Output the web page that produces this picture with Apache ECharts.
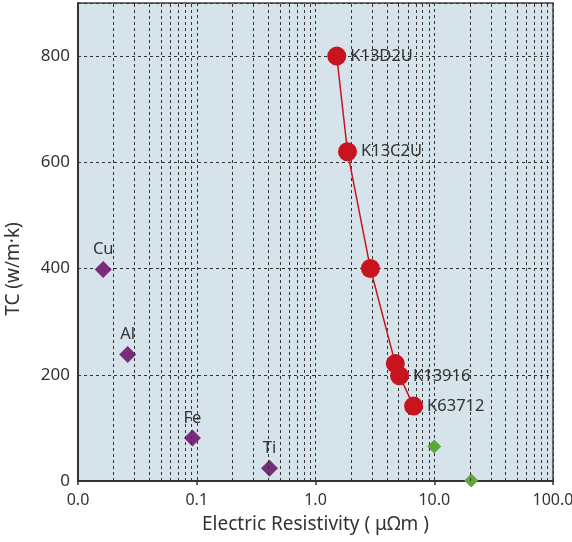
<!DOCTYPE html>
<html>
<head>
<meta charset="utf-8">
<script src="https://cdn.jsdelivr.net/npm/echarts@6/dist/echarts.min.js"></script>
<style>
  html, body { margin: 0; padding: 0; background: #ffffff; }
  #chart { width: 572px; height: 542px; }
</style>
</head>
<body>
<div id="chart"></div>
<script>
// K-series alloys (red, connected)
var alloyNames = ['K13D2U', 'K13C2U', '', '', 'K13916', 'K63712'];
var alloyRes = [1.51, 1.86, 2.9, 4.7, 5.1, 6.7];
var alloyTC = [800, 620, 400, 221, 198, 141];

// pure metals (purple diamonds)
var metalNames = ['Cu', 'Al', 'Fe', 'Ti'];
var metalRes = [0.0163, 0.0262, 0.092, 0.41];
var metalTC = [398, 238, 81, 24];

// other materials (green diamonds)
var otherRes = [10.0, 20.5];
var otherTC = [65, 1];

var xTicks = [0.01, 0.1, 1, 10, 100];
var yTicks = [0, 200, 400, 600, 800];

var FONT = '"Noto Sans", "Open Sans", sans-serif';

// minor log gridlines 2..9 within each decade
var minorLines = [];
for (var d = 0; d < xTicks.length - 1; d++) {
  for (var m = 2; m <= 9; m++) {
    minorLines.push({ xAxis: +(xTicks[d] * m).toPrecision(3) });
  }
}

function pairs(xs, ys) {
  return xs.map(function (x, i) { return [x, ys[i]]; });
}

var chart = echarts.init(document.getElementById('chart'));
chart.setOption({
  backgroundColor: '#ffffff',
  animation: false,
  grid: {
    left: 78, right: 19, top: 3, bottom: 61,
    outerBoundsMode: 'none',
    containLabel: false,
    show: true,
    backgroundColor: '#d6e3eb',
    borderColor: '#444',
    borderWidth: 1.5
  },
  xAxis: {
    type: 'log',
    logBase: 10,
    min: xTicks[0],
    max: xTicks[xTicks.length - 1],
    interval: 1,
    name: 'Electric Resistivity ( μΩm )',
    nameLocation: 'middle',
    nameGap: 34,
    nameTextStyle: { fontFamily: FONT, fontSize: 19, color: '#333' },
    axisLine: { lineStyle: { color: '#333', width: 2 } },
    axisTick: { show: true, length: 4, lineStyle: { color: '#333', width: 1.5 } },
    axisLabel: {
      fontFamily: FONT, fontSize: 16, color: '#333', margin: 11,
      formatter: function (v) { return v.toFixed(1); }
    },
    splitLine: { show: true, lineStyle: { color: '#333', type: [3, 3], width: 1 } }
  },
  yAxis: {
    type: 'value',
    min: 0,
    max: 900,
    interval: 200,
    axisLine: { show: true, lineStyle: { color: '#333', width: 2 } },
    axisTick: { show: false },
    axisLabel: {
      fontFamily: FONT, fontSize: 17, color: '#333', margin: 8,
      showMaxLabel: false
    },
    splitLine: { show: true, lineStyle: { color: '#333', type: [3, 3], width: 1 } }
  },
  graphic: [{
    type: 'text',
    x: 14,
    y: 269,
    rotation: Math.PI / 2,
    style: {
      text: 'TC (w/m·k)',
      font: '19px ' + FONT,
      fill: '#333',
      textAlign: 'center',
      textVerticalAlign: 'middle'
    }
  }],
  series: [
    {
      type: 'line',
      data: [],
      silent: true,
      z: 1,
      markLine: {
        silent: true,
        symbol: 'none',
        label: { show: false },
        lineStyle: { color: '#333', type: [3, 3], width: 1 },
        data: minorLines
      }
    },
    {
      type: 'line',
      data: pairs(alloyRes, alloyTC),
      symbol: 'circle',
      symbolSize: 19,
      z: 5,
      itemStyle: { color: '#c8141e', opacity: 1 },
      lineStyle: { color: '#c8141e', width: 1.5 },
      label: {
        show: true,
        position: 'right',
        distance: 4,
        fontFamily: FONT, fontSize: 16.5, color: '#333',
        formatter: function (p) { return alloyNames[p.dataIndex]; }
      }
    },
    {
      type: 'scatter',
      data: pairs(metalRes, metalTC),
      symbol: 'diamond',
      symbolSize: 17,
      z: 4,
      itemStyle: { color: '#7b2b7b', opacity: 1 },
      label: {
        show: true,
        position: 'top',
        distance: 3,
        fontFamily: FONT, fontSize: 16.5, color: '#333',
        formatter: function (p) { return metalNames[p.dataIndex]; }
      }
    },
    {
      type: 'scatter',
      data: pairs(otherRes, otherTC),
      symbol: 'diamond',
      symbolSize: 14,
      z: 4,
      itemStyle: { color: '#5ea83a', opacity: 1 }
    }
  ]
});
</script>
</body>
</html>
